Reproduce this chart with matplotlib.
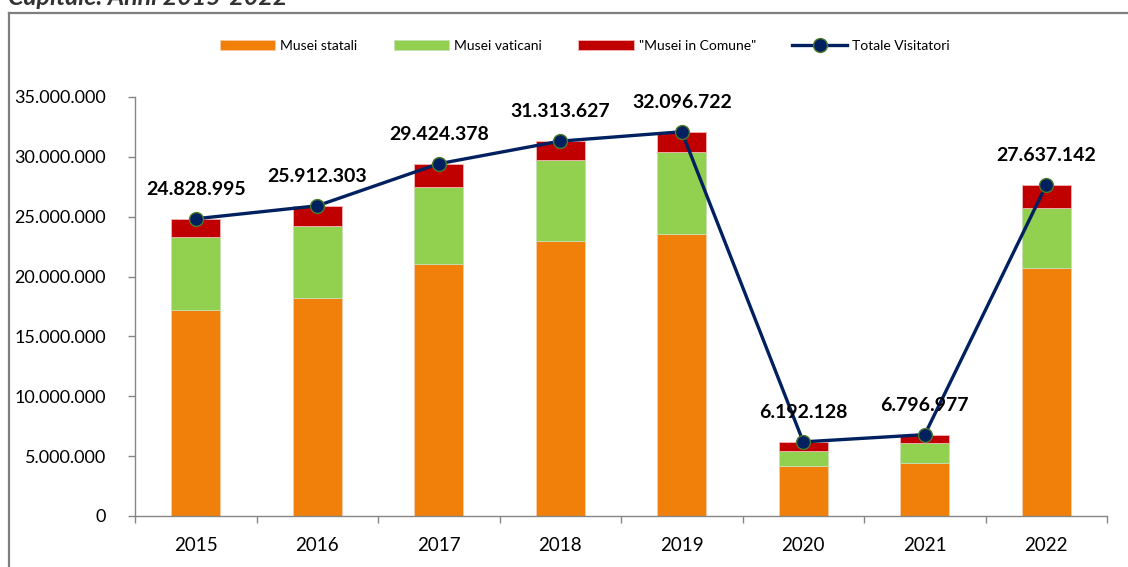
import numpy as np
import matplotlib.pyplot as plt
from matplotlib.lines import Line2D

plt.rcParams['font.family'] = ['Lato', 'DejaVu Sans']

years = ['2015', '2016', '2017', '2018', '2019', '2020', '2021', '2022']
totale = [24828995, 25912303, 29424378, 31313627, 32096722, 6192128, 6796977, 27637142]
statali = [17200000, 18200000, 21050000, 22950000, 23550000, 4180000, 4450000, 20700000]
vaticani = [6100000, 6000000, 6450000, 6800000, 6850000, 1270000, 1620000, 5000000]
comune = [t - s - v for t, s, v in zip(totale, statali, vaticani)]

c_orange = '#F0800A'
c_green = '#92D050'
c_red = '#C00000'
c_navy = '#002060'
c_grid = '#868686'

fig = plt.figure(figsize=(11.28, 5.67), dpi=100)
ax = fig.add_axes([135 / 1128, 1 - 516 / 567, 972 / 1128, 419 / 567])

x = np.arange(len(years))
w = 0.4
b1 = ax.bar(x, statali, w, color=c_orange, edgecolor='#F8CBAD', linewidth=0.6, label='Musei statali')
b2 = ax.bar(x, vaticani, w, bottom=statali, color=c_green, edgecolor='#C5E0B4', linewidth=0.6,
            label='Musei vaticani')
bott = [s + v for s, v in zip(statali, vaticani)]
b3 = ax.bar(x, comune, w, bottom=bott, color=c_red, edgecolor='#F4B6B6', linewidth=0.6,
            label='"Musei in Comune"')
ln, = ax.plot(x, totale, color=c_navy, lw=2.4, marker='o', ms=10, mfc=c_navy, mec='#4E7A2A',
              mew=1.0, label='Totale Visitatori', zorder=5)

for xi, t in zip(x, totale):
    ax.annotate(f'{t:,}'.replace(',', '.'), (xi, t), xytext=(0, 15), textcoords='offset points',
                ha='center', va='bottom', fontsize=14, fontweight='bold', color='black', zorder=6)

ax.set_xlim(-0.5, len(years) - 0.5)
ax.set_ylim(0, 35000000)
ax.set_yticks(np.arange(0, 35000001, 5000000))
ax.set_yticklabels(['0' if v == 0 else f'{v:,}'.replace(',', '.') for v in range(0, 35000001, 5000000)])
ax.set_xticks(x)
ax.set_xticklabels(years)
ax.set_xticks(np.arange(-0.5, len(years)), minor=True)
ax.tick_params(axis='x', which='major', length=0, labelsize=13.5, pad=15)
ax.tick_params(axis='x', which='minor', length=5, color=c_grid, width=1)
ax.tick_params(axis='y', length=5, color=c_grid, width=1, labelsize=13, pad=16)

for s in ['top', 'right']:
    ax.spines[s].set_visible(False)
for s in ['left', 'bottom']:
    ax.spines[s].set_color(c_grid)
    ax.spines[s].set_linewidth(1)

fig.legend(handles=[b1, b2, b3, ln], loc='center', bbox_to_anchor=(585 / 1128, 1 - 46 / 567),
           ncol=4, frameon=False, fontsize=10, handlelength=4.0, handleheight=0.7,
           columnspacing=2.6, handletextpad=0.35)

# outer frame (cut by the image edge)
fig.add_artist(Line2D([9 / 1128, 9 / 1128], [0, 1 - 13 / 567], color='#7F7F7F', lw=1.6,
                      transform=fig.transFigure))
fig.add_artist(Line2D([9 / 1128, 1], [1 - 13 / 567, 1 - 13 / 567], color='#7F7F7F', lw=1.6,
                      transform=fig.transFigure))

fig.text(8 / 1128, 1 - 5 / 567, 'Capitale. Anni 2015-2022', fontsize=18, fontweight='bold',
         style='italic', color='#333333', va='baseline', ha='left')

fig.savefig('out.png', dpi=100)
